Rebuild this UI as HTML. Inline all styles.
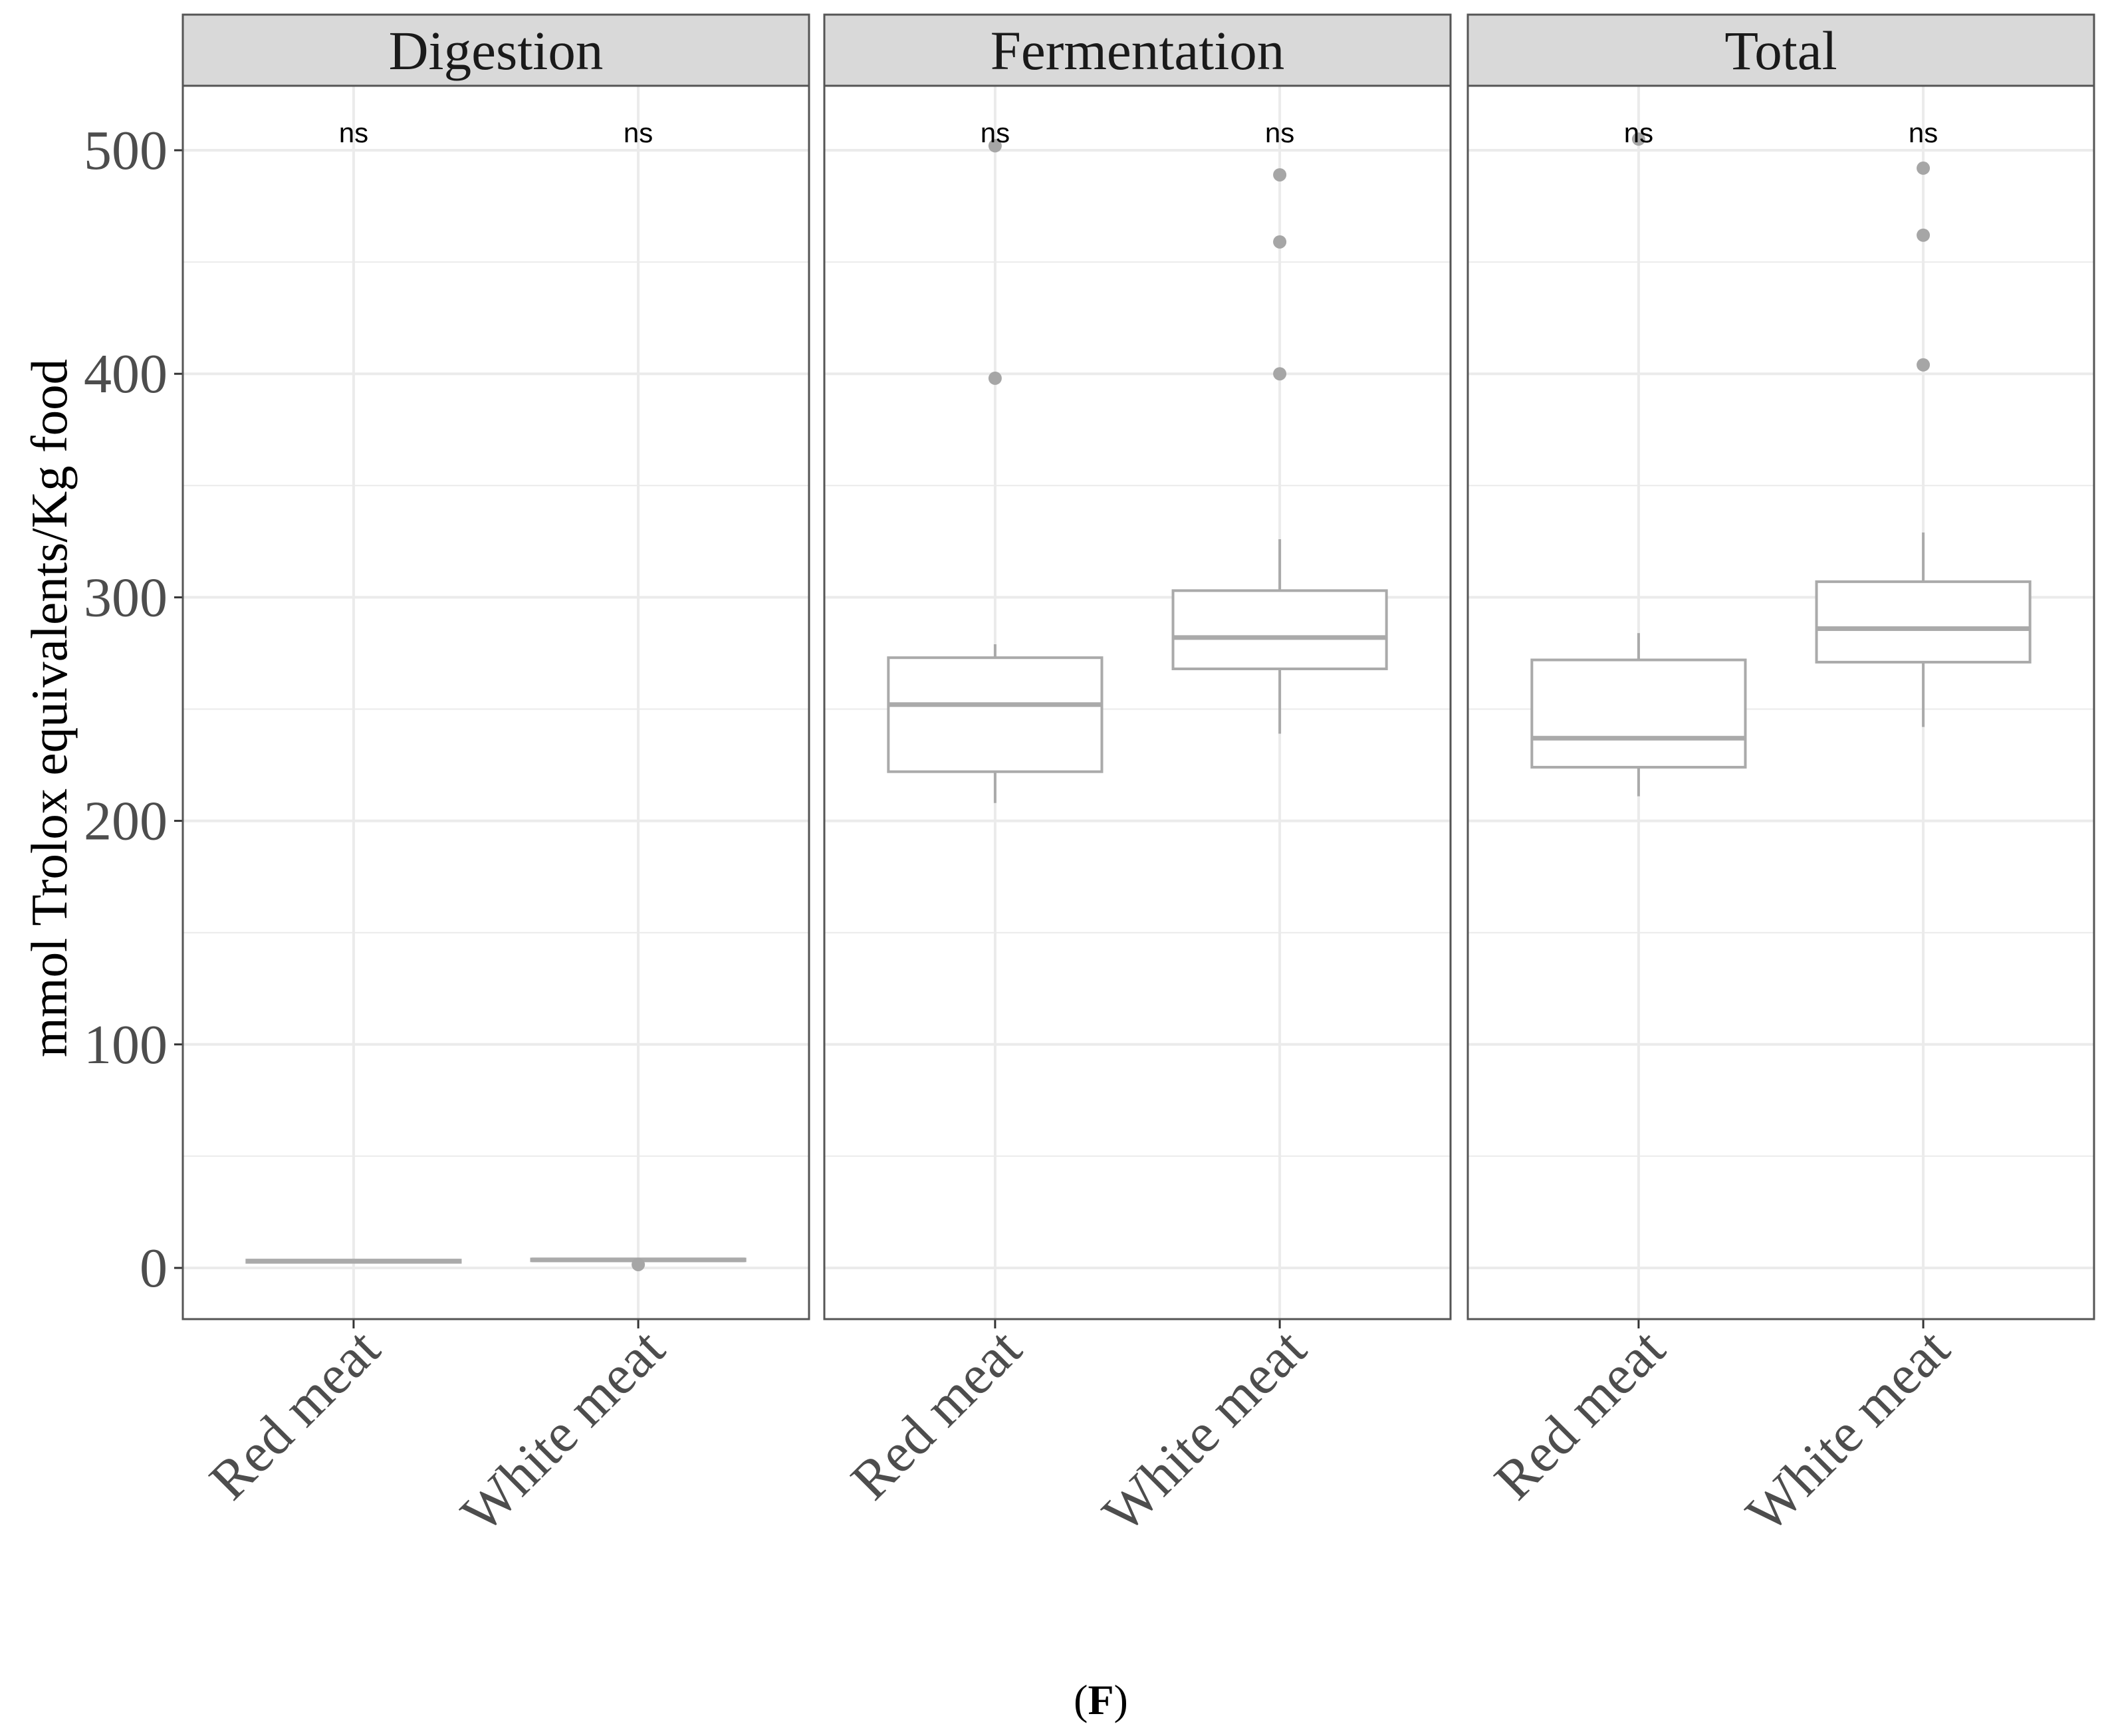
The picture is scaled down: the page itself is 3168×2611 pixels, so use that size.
<!DOCTYPE html>
<html><head><meta charset="utf-8"><style>
html,body{margin:0;padding:0;background:#fff;}
svg{display:block;}
</style></head><body>
<svg id="chart" width="3168" height="2611" viewBox="0 0 3168 2611" xmlns="http://www.w3.org/2000/svg">
<text x="0" y="0" transform="translate(100,1065) rotate(-90)" text-anchor="middle" font-family="Liberation Serif, serif" font-size="77" fill="#000">mmol Trolox equivalents/Kg food</text>
<text x="1656" y="2578" text-anchor="middle" font-family="Liberation Serif, serif" font-size="64" fill="#000">(<tspan font-weight="bold">F</tspan>)</text>
</svg>
<script>
const panels = ["Digestion", "Fermentation", "Total"];
const categories = ["Red meat", "White meat"];
const yTicks = [0, 100, 200, 300, 400, 500];
// [whiskerLow, q1, median, q3, whiskerHigh] per panel per category
const digestionStats = [[2, 2.5, 3, 3.5, 4], [2.8, 3.2, 3.6, 4, 4.5]];
const fermentationStats = [[208, 222, 252, 273, 279], [239, 268, 282, 303, 326]];
const totalStats = [[211, 224, 237, 272, 284], [242, 271, 286, 307, 329]];
const digestionOutliers = [[], [1.5]];
const fermentationOutliers = [[398, 502], [400, 459, 489]];
const totalOutliers = [[505], [404, 462, 492]];
const sigLabels = ["ns", "ns"];

const stats = [digestionStats, fermentationStats, totalStats];
const outliers = [digestionOutliers, fermentationOutliers, totalOutliers];
const svg = document.getElementById('chart');
const NS = 'http://www.w3.org/2000/svg';
const panelLefts = [275, 1240, 2208];
const panelW = 942;
const stripTop = 22, stripBot = 129, plotBot = 1984;
function yScale(v){ return 1907 - v * (1907 - 226) / 500; }
function xScale(pi, ci){ return panelLefts[pi] + panelW * (0.6 + ci) / 2.2; }
function mk(tag, attrs, parent){
  const e = document.createElementNS(NS, tag);
  for (const k in attrs) e.setAttribute(k, attrs[k]);
  (parent || svg).appendChild(e);
  return e;
}
const serif = 'Liberation Serif, serif';
yTicks.forEach(t => {
  const tx = mk('text', {x: 252, y: yScale(t) + 28, 'text-anchor': 'end', 'font-family': serif, 'font-size': 84, fill: '#4d4d4d'});
  tx.textContent = t;
  
  
  const tk = mk('line', {x1: 262, x2: 275, y1: yScale(t), y2: yScale(t), stroke: '#333', 'stroke-width': 3});
  
  
});
panels.forEach((p, pi) => {
  const L = panelLefts[pi], R = L + panelW;
  const g = mk('g', {});
  
  
  for (let v = 0; v <= 550; v += 50) {
    const y = yScale(v);
    if (y < stripBot || y > plotBot) continue;
    const gl = mk('line', {x1: L, x2: R, y1: y, y2: y, stroke: '#ebebeb', 'stroke-width': v % 100 === 0 ? 4 : 2}, g);
    
    
  }
  categories.forEach((c, ci) => {
    const x = xScale(pi, ci);
    const gl = mk('line', {x1: x, x2: x, y1: stripBot, y2: plotBot, stroke: '#ebebeb', 'stroke-width': 4}, g);
    
    
  });
  categories.forEach((c, ci) => {
    const x = xScale(pi, ci);
    const s = stats[pi][ci];
    const hw = panelW / 2.2 * 0.375;
    const bg = mk('g', {}, g);
    
    
    mk('line', {x1: x, x2: x, y1: yScale(s[0]), y2: yScale(s[1]), stroke: '#aaa', 'stroke-width': 4}, bg);
    mk('line', {x1: x, x2: x, y1: yScale(s[3]), y2: yScale(s[4]), stroke: '#aaa', 'stroke-width': 4}, bg);
    mk('rect', {x: x - hw, y: yScale(s[3]), width: 2 * hw, height: Math.max(yScale(s[1]) - yScale(s[3]), 0.5), fill: '#fff', stroke: '#aaa', 'stroke-width': 4}, bg);
    mk('line', {x1: x - hw, x2: x + hw, y1: yScale(s[2]), y2: yScale(s[2]), stroke: '#aaa', 'stroke-width': 7}, bg);
    outliers[pi][ci].forEach(o => {
      const pt = mk('circle', {cx: x, cy: yScale(o), r: 10, fill: '#a6a6a6'}, g);
      
      
    });
    const ns = mk('text', {x: x, y: 214, 'text-anchor': 'middle', 'font-family': 'Liberation Sans, sans-serif', 'font-size': 42, fill: '#000'}, g);
    ns.textContent = sigLabels[ci];
    
    
    const tk = mk('line', {x1: x, x2: x, y1: plotBot, y2: plotBot + 14, stroke: '#333', 'stroke-width': 3}, g);
    
    
    const xl = mk('text', {x: 0, y: 0, transform: 'translate(' + (x + 44) + ',' + (plotBot + 50) + ') rotate(-45)', 'text-anchor': 'end', 'font-family': serif, 'font-size': 84, fill: '#4d4d4d'}, g);
    xl.textContent = c;
    
    
  });
  const pb = mk('rect', {x: L, y: stripBot, width: panelW, height: plotBot - stripBot, fill: 'none', stroke: '#555', 'stroke-width': 3}, g);
  
  
  const st = mk('rect', {x: L, y: stripTop, width: panelW, height: stripBot - stripTop, fill: '#d9d9d9', stroke: '#555', 'stroke-width': 3}, g);
  
  
  const stt = mk('text', {x: L + panelW / 2, y: 104, 'text-anchor': 'middle', 'font-family': serif, 'font-size': 83, fill: '#1a1a1a'}, g);
  stt.textContent = p;
  
  
});
</script>
</body></html>
